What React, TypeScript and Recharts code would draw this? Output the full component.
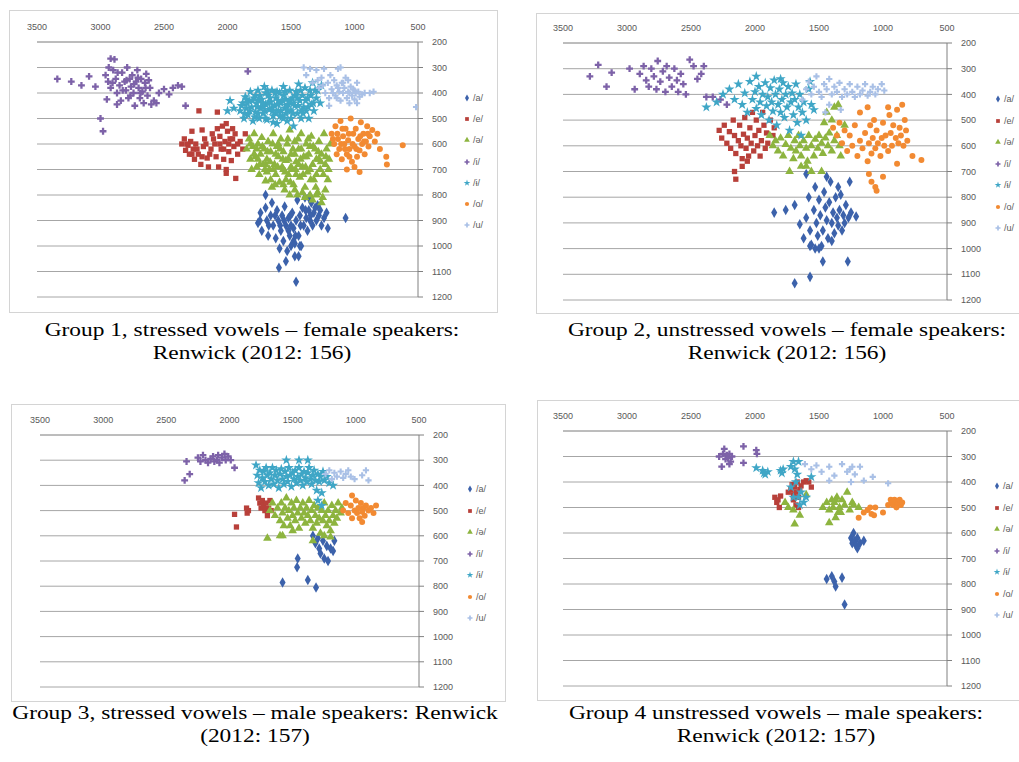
import { ScatterChart, Scatter, XAxis, YAxis, CartesianGrid, Symbols } from 'recharts'

type Pt = [number, number] // [F2, F1]

const VOWELS = ['/a/', '/e/', '/ə/', '/i/', '/ɨ/', '/o/', '/u/']
const F2_TICKS = [3500, 3000, 2500, 2000, 1500, 1000, 500]
const F1_TICKS = [200, 300, 400, 500, 600, 700, 800, 900, 1000, 1100, 1200]

const CAPTIONS = [
  ['Group 1, stressed vowels – female speakers:', 'Renwick (2012: 156)'],
  ['Group 2, unstressed vowels –  female speakers:', 'Renwick (2012: 156)'],
  ['Group 3, stressed vowels – male speakers: Renwick', '(2012: 157)'],
  ['Group 4 unstressed vowels – male speakers:', 'Renwick (2012: 157)'],
]

// ---- Group 1: stressed, female
const g1A: Pt[] = [[1760,910],[1740,870],[1730,940],[1700,850],[1690,900],[1680,960],[1660,880],[1650,830],[1640,920],[1620,970],[1610,860],[1600,900],[1590,1010],[1580,940],[1570,880],[1560,980],[1550,845],[1540,920],[1530,1020],[1520,890],[1510,960],[1500,1000],[1490,870],[1480,930],[1470,1040],[1460,900],[1450,820],[1440,960],[1430,880],[1420,1000],[1410,850],[1400,920],[1390,810],[1380,890],[1370,940],[1360,860],[1350,900],[1340,830],[1330,920],[1320,870],[1300,900],[1290,840],[1280,880],[1260,920],[1240,890],[1220,870],[1210,930],[1595,1085],[1460,1140],[1540,1060],[1440,1040],[1070,890],[1700,800],[1360,810],[1520,940],[1480,980],[1745,900],[1675,920],[1625,880],[1585,920],[1555,900],[1505,880],[1465,960],[1425,920],[1385,860],[1345,880],[1310,850],[1270,860],[1500,920],[1430,1000],[1470,990]]
const g1E: Pt[] = [[2225,470],[2080,475],[2010,520],[2360,600],[2340,580],[2330,625],[2310,605],[2300,640],[2290,590],[2270,620],[2260,660],[2250,600],[2230,640],[2210,680],[2190,610],[2180,580],[2160,655],[2150,690],[2130,620],[2120,560],[2100,600],[2090,650],[2080,540],[2070,690],[2060,570],[2050,620],[2040,530],[2030,660],[2020,590],[2010,700],[2000,550],[1990,630],[1980,580],[1970,665],[1960,540],[1950,610],[1940,560],[1920,640],[1900,590],[1880,620],[1860,560],[2010,715],[1935,735],[2200,545],[2280,550],[2320,600],[2280,640],[2240,620],[2200,650],[2170,600],[2140,640],[2110,580],[2060,600],[2030,620],[1990,600],[1960,580],[1920,600]]
const g1Schwa: Pt[] = [[1850,620],[1830,580],[1820,660],[1810,700],[1800,610],[1790,560],[1780,650],[1770,690],[1760,600],[1750,720],[1740,640],[1730,575],[1720,680],[1710,620],[1700,745],[1690,660],[1680,590],[1670,700],[1660,630],[1650,770],[1640,560],[1630,680],[1620,720],[1610,610],[1600,650],[1590,750],[1580,580],[1570,690],[1560,630],[1550,780],[1540,665],[1530,600],[1520,720],[1510,545],[1500,640],[1490,700],[1480,760],[1470,590],[1460,670],[1450,800],[1440,620],[1430,730],[1420,560],[1410,690],[1400,650],[1390,770],[1380,600],[1370,710],[1360,640],[1350,800],[1340,570],[1330,680],[1320,740],[1310,620],[1300,660],[1290,790],[1280,590],[1270,700],[1260,640],[1250,810],[1240,560],[1230,680],[1220,620],[1210,740],[1200,660],[1190,600],[1330,820],[1260,830],[1390,810],[1560,700],[1470,640],[1640,700],[1350,700],[1440,680],[1520,660],[1600,600],[1280,660],[1700,680],[1420,620],[1380,650],[1540,740],[1460,720],[1300,720],[1760,660],[1500,690],[1230,780],[1620,640],[1350,610],[1820,600],[1790,640],[1770,620],[1745,680],[1725,610],[1705,700],[1685,630],[1665,670],[1645,600],[1625,760],[1605,690],[1585,620],[1565,660],[1545,710],[1525,580],[1505,750],[1485,620],[1465,700],[1445,580],[1425,660],[1405,720],[1385,690],[1365,580],[1345,740],[1325,610],[1305,770],[1285,630],[1265,670],[1245,720],[1225,650],[1205,700],[1510,800],[1410,790],[1470,780],[1300,800],[1560,760],[1660,740],[1690,710]]
const g1I: Pt[] = [[3340,345],[3230,355],[3150,370],[3040,375],[3090,335],[2920,265],[2890,268],[2960,330],[2940,355],[2920,380],[2900,310],[2880,345],[2870,400],[2850,370],[2840,430],[2830,320],[2810,355],[2800,390],[2790,300],[2780,420],[2770,345],[2760,375],[2750,330],[2740,400],[2730,450],[2720,355],[2710,310],[2700,380],[2690,420],[2680,345],[2670,395],[2660,440],[2650,360],[2640,325],[2630,410],[2610,380],[2600,445],[2580,430],[2560,440],[2540,400],[2500,385],[2460,405],[2430,380],[2390,370],[2360,375],[2330,450],[3000,500],[2980,550],[1840,315],[2950,425],[2870,445],[2935,300],[2905,360],[2865,320],[2825,390],[2795,350],[2765,410],[2735,365],[2705,340],[2685,400],[2645,380],[2620,350]]
const g1Barred: Pt[] = [[1900,470],[1880,440],[1870,500],[1860,415],[1850,460],[1840,485],[1830,430],[1820,395],[1810,455],[1800,510],[1790,420],[1780,475],[1770,440],[1760,390],[1750,500],[1740,460],[1730,425],[1720,480],[1710,375],[1700,445],[1690,505],[1680,410],[1670,465],[1660,435],[1650,390],[1640,490],[1630,450],[1620,420],[1610,520],[1600,470],[1590,400],[1580,440],[1570,495],[1560,375],[1550,460],[1540,425],[1530,510],[1520,445],[1510,390],[1500,470],[1490,420],[1480,530],[1470,450],[1460,395],[1450,480],[1440,365],[1430,430],[1420,500],[1410,410],[1400,455],[1390,380],[1380,470],[1370,420],[1360,500],[1350,390],[1340,445],[1330,360],[1320,470],[1300,420],[1290,390],[1270,440],[1260,370],[1750,430],[1650,460],[1600,430],[1560,410],[1700,400],[1620,480],[1530,450],[1680,440],[1580,470],[1480,440],[1720,455],[1610,395],[1540,480],[1780,410],[1450,420],[1850,425],[1950,460],[2000,470],[1980,430],[1890,450],[1865,480],[1845,440],[1825,470],[1805,430],[1785,495],[1765,455],[1745,410],[1725,440],[1705,470],[1685,390],[1665,420],[1645,470],[1625,400],[1605,445],[1585,490],[1565,430],[1545,395],[1525,470],[1505,430],[1485,480],[1465,410],[1445,450],[1425,390],[1405,480],[1385,430],[1365,455],[1345,410],[1325,440],[1310,390],[1640,515],[1560,500],[1500,500],[1420,470],[1700,500],[1760,480]]
const g1O: Pt[] = [[1180,560],[1160,600],[1150,530],[1140,640],[1130,580],[1120,620],[1110,510],[1100,660],[1090,570],[1080,600],[1070,540],[1060,640],[1050,585],[1040,620],[1030,500],[1020,670],[1010,560],[1000,610],[990,540],[980,650],[970,580],[960,625],[950,515],[940,600],[930,560],[920,640],[910,590],[900,530],[890,610],[880,570],[860,545],[840,590],[820,560],[1000,690],[960,710],[750,650],[745,680],[620,605],[800,620],[1060,700],[1170,580],[1135,560],[1105,600],[1075,620],[1045,560],[1015,600],[985,620],[955,570],[925,590],[895,560],[1095,540],[1040,650]]
const g1U: Pt[] = [[1400,300],[1380,330],[1350,305],[1330,360],[1300,310],[1280,380],[1260,340],[1240,305],[1230,400],[1210,360],[1200,420],[1190,330],[1180,385],[1160,350],[1150,410],[1140,370],[1130,305],[1120,395],[1110,430],[1100,360],[1090,400],[1080,380],[1070,340],[1060,420],[1050,395],[1040,440],[1030,375],[1020,410],[1010,385],[1000,425],[990,400],[980,440],[970,395],[960,415],[940,405],[920,400],[880,400],[850,395],[1110,300],[1200,450],[1050,350],[515,455],[980,360],[1290,350],[1250,370],[1170,400],[1130,380],[1090,360],[1040,400],[1000,390],[1140,420]]

// ---- Group 2: unstressed, female
const g2A: Pt[] = [[1850,860],[1760,850],[1690,830],[1650,905],[1620,960],[1600,880],[1580,800],[1570,930],[1560,985],[1540,850],[1530,760],[1520,900],[1510,950],[1500,810],[1490,870],[1480,990],[1470,930],[1460,780],[1450,840],[1440,890],[1430,960],[1420,820],[1410,740],[1400,900],[1390,860],[1380,940],[1370,800],[1360,880],[1350,910],[1340,850],[1330,790],[1320,930],[1310,870],[1300,900],[1290,830],[1270,880],[1260,740],[1250,860],[1570,990],[1470,1050],[1275,1050],[1690,1135],[1570,1110],[1210,875],[1530,1000],[1400,970],[1440,720],[1350,760],[1600,710],[1500,1000]]
const g2E: Pt[] = [[2280,540],[2260,570],[2240,520],[2220,590],[2200,545],[2190,610],[2170,500],[2160,560],[2150,630],[2130,580],[2120,520],[2110,600],[2100,650],[2090,555],[2080,490],[2070,610],[2060,570],[2050,640],[2040,530],[2030,590],[2020,470],[2010,620],[2000,560],[1990,500],[1980,600],[1970,540],[1960,640],[1950,580],[1940,470],[1930,520],[1920,610],[1910,550],[1900,590],[1880,500],[1860,560],[1850,530],[2100,680],[2060,660],[2160,700],[2150,730]]
const g2Schwa: Pt[] = [[1885,560],[1860,600],[1840,580],[1820,620],[1800,570],[1780,640],[1760,595],[1740,560],[1720,610],[1700,650],[1690,580],[1680,620],[1660,560],[1650,600],[1640,640],[1620,580],[1600,610],[1590,660],[1580,560],[1560,600],[1540,640],[1530,575],[1510,610],[1500,560],[1480,590],[1470,630],[1450,570],[1430,600],[1420,550],[1400,620],[1380,580],[1360,560],[1340,600],[1330,640],[1600,680],[1560,700],[1730,700],[1480,700],[1640,680],[1440,470],[1400,500],[1350,440],[1300,520],[1380,450],[1460,510]]
const g2I: Pt[] = [[3290,330],[3225,285],[3160,370],[3120,315],[2980,300],[2940,380],[2900,320],[2870,290],[2850,345],[2830,370],[2810,300],[2790,330],[2770,380],[2760,270],[2740,350],[2720,310],[2700,390],[2690,290],[2670,335],[2650,370],[2630,300],[2610,345],[2600,390],[2580,320],[2560,360],[2540,400],[2510,265],[2480,290],[2450,340],[2420,320],[2400,290],[2380,410],[2330,410],[2270,420],[2220,440]]
const g2Barred: Pt[] = [[2380,450],[2300,430],[2250,400],[2200,380],[2160,420],[2130,360],[2100,440],[2080,395],[2060,470],[2040,350],[2020,420],[2000,390],[1990,455],[1970,370],[1960,430],[1950,480],[1940,400],[1920,355],[1910,445],[1900,410],[1890,500],[1880,375],[1870,430],[1860,465],[1850,345],[1840,400],[1830,520],[1820,440],[1810,380],[1800,470],[1790,420],[1780,355],[1770,490],[1760,400],[1750,450],[1740,370],[1730,540],[1720,430],[1710,395],[1700,480],[1690,420],[1680,360],[1670,510],[1660,450],[1650,400],[1640,560],[1630,470],[1620,430],[1600,500],[1580,380],[1560,440],[1540,460],[1990,330],[1800,340],[1570,350]]
const g2O: Pt[] = [[1390,530],[1360,560],[1340,510],[1320,590],[1300,540],[1280,620],[1260,560],[1240,600],[1220,520],[1200,640],[1180,580],[1160,610],[1140,550],[1120,660],[1110,590],[1100,520],[1090,630],[1080,570],[1060,610],[1050,540],[1040,590],[1020,640],[1010,570],[1000,510],[990,600],[980,560],[960,620],[950,480],[940,550],[930,600],[920,520],[900,570],[890,460],[880,590],[870,530],[860,560],[850,440],[840,600],[830,500],[820,540],[810,580],[1180,470],[1120,450],[1070,500],[960,450],[770,640],[700,655],[890,670],[1110,710],[1090,740],[1060,760],[1050,775],[1000,720]]
const g2U: Pt[] = [[1630,420],[1600,380],[1580,350],[1560,400],[1540,370],[1520,330],[1500,390],[1480,410],[1460,360],[1440,380],[1420,340],[1400,400],[1380,370],[1360,390],[1340,355],[1320,410],[1300,380],[1280,400],[1260,360],[1240,390],[1220,410],[1200,370],[1180,400],[1160,385],[1140,360],[1120,405],[1100,390],[1080,370],[1060,400],[1040,380],[1010,360],[990,385],[1450,470],[1330,460],[1420,440]]

// ---- Group 3: stressed, male
const g3A: Pt[] = [[1340,600],[1320,630],[1300,610],[1290,650],[1280,670],[1260,620],[1250,690],[1230,640],[1220,700],[1200,650],[1180,660],[1170,620],[1460,690],[1465,725],[1580,785],[1380,775],[1315,805]]
const g3E: Pt[] = [[1960,515],[1945,565],[1865,490],[1860,510],[1850,500],[1770,450],[1760,470],[1750,490],[1740,460],[1730,480],[1720,500],[1710,470],[1700,520],[1690,490],[1680,460],[1670,500]]
const g3Schwa: Pt[] = [[1700,610],[1680,500],[1660,470],[1640,520],[1620,490],[1600,540],[1590,470],[1580,510],[1570,560],[1560,490],[1550,450],[1540,530],[1530,500],[1520,560],[1510,470],[1500,520],[1490,490],[1480,540],[1470,460],[1460,510],[1450,570],[1440,490],[1430,530],[1420,470],[1410,510],[1400,550],[1390,490],[1380,520],[1370,460],[1360,540],[1350,500],[1340,570],[1330,480],[1320,520],[1310,550],[1300,490],[1290,530],[1280,590],[1270,500],[1260,540],[1250,470],[1240,520],[1230,560],[1220,500],[1210,540],[1200,580],[1190,480],[1180,520],[1170,550],[1160,500],[1150,530],[1140,470],[1120,510],[1110,490],[1600,600],[1580,600],[1340,620],[1250,600],[1200,605],[1500,580]]
const g3I: Pt[] = [[2355,380],[2315,355],[2340,305],[2250,290],[2230,305],[2210,280],[2190,300],[2170,310],[2150,295],[2130,285],[2120,305],[2100,300],[2090,280],[2080,310],[2060,290],[2040,275],[2030,300],[2010,285],[1990,300],[1960,330]]
const g3Barred: Pt[] = [[1790,320],[1780,360],[1770,390],[1760,340],[1750,410],[1740,370],[1730,345],[1720,385],[1710,330],[1700,360],[1690,400],[1680,350],[1670,375],[1660,330],[1650,395],[1640,360],[1630,340],[1620,380],[1610,410],[1600,355],[1590,335],[1580,375],[1570,395],[1560,345],[1550,365],[1540,385],[1530,330],[1520,360],[1510,405],[1500,350],[1490,375],[1480,340],[1470,390],[1460,365],[1450,330],[1440,380],[1430,355],[1420,400],[1410,345],[1400,370],[1390,385],[1380,350],[1370,330],[1360,375],[1350,395],[1340,360],[1330,340],[1320,380],[1310,420],[1300,355],[1290,385],[1280,365],[1270,430],[1260,345],[1250,380],[1230,365],[1210,390],[1180,400],[1450,300],[1380,300],[1550,300],[1300,460],[1270,480]]
const g3O: Pt[] = [[1100,500],[1080,470],[1060,510],[1040,480],[1030,530],[1010,500],[1000,460],[990,510],[980,490],[970,530],[960,470],[950,505],[940,490],[930,520],[920,480],[900,500],[880,490],[860,510],[840,480],[1030,440],[950,545]]
const g3U: Pt[] = [[1240,355],[1210,340],[1190,375],[1170,350],[1150,365],[1120,345],[1100,370],[1080,355],[1060,340],[1040,365],[1010,375],[950,360],[920,340],[900,380]]

// ---- Group 4: unstressed, male
const g4A: Pt[] = [[1250,620],[1240,640],[1230,600],[1220,630],[1210,650],[1200,620],[1200,660],[1180,640],[1150,630],[1440,780],[1400,770],[1380,790],[1370,810],[1320,775],[1300,880]]
const g4E: Pt[] = [[1845,460],[1830,480],[1820,470],[1810,500],[1800,455],[1720,430],[1710,410],[1700,450],[1690,420],[1680,440],[1670,400],[1660,460],[1650,430],[1640,415],[1620,400],[1600,395],[1700,470],[1680,490],[1660,500],[1740,440],[1580,400],[1560,420]]
const g4Schwa: Pt[] = [[1765,480],[1740,500],[1700,510],[1690,565],[1650,530],[1600,450],[1470,500],[1440,480],[1420,510],[1400,470],[1390,500],[1380,480],[1370,540],[1360,460],[1350,520],[1340,500],[1320,470],[1300,490],[1280,440],[1260,510],[1240,480],[1230,490],[1190,500],[1420,560],[1370,470],[1330,520]]
const g4I: Pt[] = [[2260,340],[2280,300],[2250,290],[2230,310],[2220,295],[2210,305],[2200,290],[2190,320],[2180,300],[2090,260],[2090,325],[1990,275],[1985,290],[2240,270],[2200,330]]
const g4Barred: Pt[] = [[1990,345],[1940,355],[1930,365],[1920,370],[1900,360],[1800,355],[1790,365],[1780,350],[1720,340],[1700,320],[1690,350],[1680,400],[1670,370],[1660,460],[1650,490],[1640,440],[1620,480],[1600,460],[1720,420],[1560,380],[1660,320],[1700,460]]
const g4O: Pt[] = [[1190,540],[1150,520],[1120,510],[1100,500],[1090,525],[1070,530],[960,490],[940,470],[930,480],[920,490],[910,470],[900,480],[895,500],[890,490],[880,480],[870,470],[860,490],[850,480],[1060,500],[1000,520]]
const g4U: Pt[] = [[1610,330],[1560,350],[1520,335],[1480,360],[1420,340],[1380,375],[1320,330],[1280,360],[1260,350],[1240,340],[1220,370],[1180,340],[1150,395],[1080,380],[960,405],[1420,395],[1250,400]]

const GROUPS: Pt[][][] = [
  [g1A, g1E, g1Schwa, g1I, g1Barred, g1O, g1U],
  [g2A, g2E, g2Schwa, g2I, g2Barred, g2O, g2U],
  [g3A, g3E, g3Schwa, g3I, g3Barred, g3O, g3U],
  [g4A, g4E, g4Schwa, g4I, g4Barred, g4O, g4U],
]

// styling
const COLORS = ['#3c62ab', '#b8403a', '#8db43f', '#7d62a8', '#3fa6c6', '#f28a32', '#a9c0e6']
const SHAPES = ['diamond', 'square', 'triangle', 'cross', 'star', 'circle', 'cross'] as const
const SIZES = [32, 28, 32, 26, 32, 28, 22]
const GRID = '#a6a6a6'
const TICK = { fontSize: 9, fill: '#595959', fontFamily: 'Liberation Sans, Arial, sans-serif' }

// page geometry of each panel: frame, plot area, legend, caption centre
const PANELS = [
  { box: [10, 11, 487, 301], plot: [37, 418, 42, 297], legend: [467, 98, 21.2], cap: [252, 330] },
  { box: [537, 14, 500, 299], plot: [563, 947, 43, 300], legend: [998, 99, 21.5], cap: [787, 330] },
  { box: [12, 405, 493, 296], plot: [40, 419, 435, 687], legend: [470, 489, 21.5], cap: [255, 713] },
  { box: [538, 401, 500, 299], plot: [563, 947, 431, 686], legend: [997, 486, 21.5], cap: [776, 713] },
]

const X_AXIS_H = 20
const Y_AXIS_W = 30

const marker = (i: number) => (props: any) => (
  <Symbols cx={props.cx} cy={props.cy} type={SHAPES[i]} size={SIZES[i]} fill={COLORS[i]} />
)

function Panel({ idx }: { idx: number }) {
  const p = PANELS[idx]
  const [bx, by, bw, bh] = p.box
  const [px0, px1, py0, py1] = p.plot
  const margin = {
    top: py0 - by - X_AXIS_H,
    left: px0 - bx,
    right: bx + bw - px1 - Y_AXIS_W,
    bottom: by + bh - py1,
  }
  const series = GROUPS[idx]
  return (
    <>
      <div style={{ position: 'absolute', left: bx - 1, top: by - 1, width: bw, height: bh, border: '1px solid #d4d4d4' }} />
      <div style={{ position: 'absolute', left: bx, top: by }}>
        <ScatterChart width={bw} height={bh} margin={margin}>
          <CartesianGrid vertical={false} stroke={GRID} />
          <XAxis type="number" dataKey="f2" orientation="top" reversed domain={[500, 3500]} ticks={F2_TICKS}
            height={X_AXIS_H} tick={TICK} tickLine={false} tickSize={4} tickMargin={8} axisLine={{ stroke: GRID }} allowDataOverflow />
          <YAxis type="number" dataKey="f1" orientation="right" reversed domain={[200, 1200]} ticks={F1_TICKS}
            width={Y_AXIS_W} tick={TICK} tickSize={5} tickMargin={9} tickLine={{ stroke: '#808080' }} axisLine={{ stroke: '#808080' }} allowDataOverflow />
          {series.map((pts, i) => (
            <Scatter key={VOWELS[i]} name={VOWELS[i]} data={pts.map(([f2, f1]) => ({ f2, f1 }))}
              fill={COLORS[i]} shape={marker(i)} isAnimationActive={false} />
          ))}
        </ScatterChart>
      </div>
      <VowelLegend x={p.legend[0]} y={p.legend[1]} step={p.legend[2]} />
    </>
  )
}

function VowelLegend({ x, y, step }: { x: number; y: number; step: number }) {
  return (
    <>
      {VOWELS.map((v, i) => (
        <div key={v} style={{ position: 'absolute', left: x - 4, top: y + i * step - 6, height: 12, display: 'flex', alignItems: 'center',
          fontFamily: 'Liberation Sans, Arial, sans-serif', fontSize: 9, color: '#595959', whiteSpace: 'nowrap' }}>
          <svg width={8} height={8} style={{ marginRight: 2 }}>
            <Symbols cx={4} cy={4} type={SHAPES[i]} size={14} fill={COLORS[i]} />
          </svg>
          {v}
        </div>
      ))}
    </>
  )
}

export default function App() {
  return (
    <div style={{ position: 'absolute', left: 0, top: 0, width: 1019, height: 762, overflow: 'hidden', background: '#fff' }}>
      {PANELS.map((p, i) => (
        <Panel key={i} idx={i} />
      ))}
      {PANELS.map((p, i) => (
        <div key={'c' + i} style={{ position: 'absolute', left: p.cap[0] - 300, top: p.cap[1] - 12, width: 600, textAlign: 'center',
          fontFamily: '"Liberation Serif", "Times New Roman", serif', fontSize: 19, lineHeight: '23px', color: '#000',
          transform: 'scaleX(1.23)', transformOrigin: 'center' }}>
          <div>{CAPTIONS[i][0]}</div>
          <div>{CAPTIONS[i][1]}</div>
        </div>
      ))}
    </div>
  )
}
